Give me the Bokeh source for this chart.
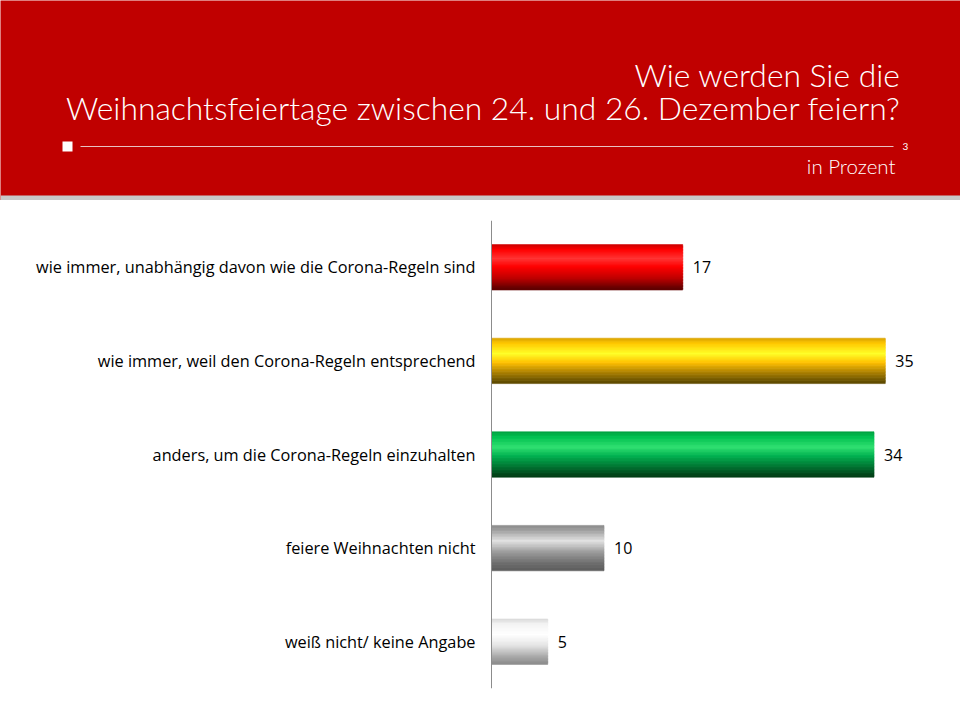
from bokeh.plotting import figure
from bokeh.layouts import column
from bokeh.models import Range1d, FactorRange, ColumnDataSource, Span
from bokeh.transform import dodge
from bokeh.core.properties import value
from bokeh.embed import file_html
from bokeh.resources import INLINE

# ---- data ----
categories = [
    "wie immer, unabhängig davon wie die Corona-Regeln sind",
    "wie immer, weil den Corona-Regeln entsprechend",
    "anders, um die Corona-Regeln einzuhalten",
    "feiere Weihnachten nicht",
    "weiß nicht/ keine Angabe",
]
values = [17, 35, 34, 10, 5]
bar_styles = ["red", "yellow", "green", "gray", "white"]
title_lines = ["Wie werden Sie die", "Weihnachtsfeiertage zwischen 24. und 26. Dezember feiern?"]
subtitle = "in Prozent"
page_number = "3"

TFONT = "Lato Light, Lato"
SFONT = "Lato"
LFONT = "Open Sans"

# ---- gradient styles (top -> bottom) ----
gradients = {
    "red":    [(0.0, "#C80000"), (0.12, "#FF0000"), (0.32, "#FF3535"), (0.5, "#FF0000"), (0.75, "#C00000"), (1.0, "#5A0000")],
    "yellow": [(0.0, "#D8A000"), (0.12, "#FFC800"), (0.35, "#FFFF28"), (0.55, "#FFC000"), (0.8, "#A07800"), (1.0, "#5A4800")],
    "green":  [(0.0, "#00A040"), (0.12, "#00C050"), (0.35, "#30E070"), (0.55, "#00B050"), (0.8, "#007030"), (1.0, "#003A14")],
    "gray":   [(0.0, "#8A8A8A"), (0.12, "#A0A0A0"), (0.35, "#E2E2E2"), (0.6, "#9C9C9C"), (0.85, "#6E6E6E"), (1.0, "#5E5E5E")],
    "white":  [(0.0, "#D8D8D8"), (0.12, "#F4F4F4"), (0.35, "#FFFFFF"), (0.6, "#E4E4E4"), (0.85, "#A8A8A8"), (1.0, "#8C8C8C")],
}

def hex2rgb(h):
    h = h.lstrip("#")
    return tuple(int(h[i:i + 2], 16) for i in (0, 2, 4))

def interp(stops, t):
    for (t0, c0), (t1, c1) in zip(stops[:-1], stops[1:]):
        if t0 <= t <= t1:
            f = 0 if t1 == t0 else (t - t0) / (t1 - t0)
            a, b = hex2rgb(c0), hex2rgb(c1)
            r = [round(a[i] + (b[i] - a[i]) * f) for i in range(3)]
            return "#%02x%02x%02x" % tuple(r)
    return stops[-1][1]

# ---- header ----
RED = "#C00000"
hdr = figure(width=960, height=200, x_range=Range1d(0, 960), y_range=Range1d(200, 0),
             output_backend="svg", toolbar_location=None, min_border=0,
             background_fill_color=RED, border_fill_color=RED, outline_line_color=None)
hdr.axis.visible = False
hdr.grid.visible = False
hdr.quad(left=[0], right=[960], top=[195], bottom=[200], fill_color="#C8C8C8", line_color=None)
hdr.text(x=[900, 900], y=[74, 107], text=title_lines, text_align="right", text_baseline="alphabetic",
         text_color="white", text_font=value(TFONT), text_font_size="31.8px")
hdr.quad(left=[62], right=[72], top=[141], bottom=[151], fill_color="white", line_color=None)
hdr.segment(x0=[80], y0=[146], x1=[893], y1=[146], line_color="#E8C0C0", line_width=1.2)
hdr.text(x=[902], y=[146], text=[page_number], text_align="left", text_baseline="middle",
         text_color="white", text_font=value(SFONT), text_font_size="10px")
hdr.text(x=[895], y=[165], text=[subtitle], text_align="right", text_baseline="alphabetic",
         text_color="white", text_font=value(TFONT), text_font_size="20.5px")

# ---- chart ----
PX = 11.25  # pixels per percent
p = figure(width=960, height=520, y_range=FactorRange(*reversed(categories)),
           x_range=Range1d(-491 / PX, 469 / PX),
           output_backend="svg", toolbar_location=None,
           min_border_left=0, min_border_right=0, min_border_top=20, min_border_bottom=32,
           outline_line_color=None, background_fill_color="white", border_fill_color="white")
p.axis.visible = False
p.grid.visible = False
p.add_layout(Span(location=0, dimension="height", line_color="#8C8C8C", line_width=1))

BAR_H = 0.48
N = 30
sh = BAR_H / N
for k in range(N):
    t = (k + 0.5) / N
    cols = [interp(gradients[s], t) for s in bar_styles]
    src = ColumnDataSource(dict(cat=categories, val=values, color=cols))
    off = BAR_H / 2 - (k + 0.5) * sh
    p.hbar(y=dodge("cat", off, range=p.y_range), left=0, right="val", height=sh * 1.3,
           fill_color="color", line_color="color", line_width=0.6, source=src)

lab = ColumnDataSource(dict(cat=categories, val=values, txt=[str(v) for v in values], zero=[0] * len(values)))
p.text(x="zero", y="cat", text="cat", source=lab, x_offset=-16, text_baseline="middle",
       text_align="right", text_color="#000000", text_font=value(LFONT), text_font_size="16.3px")
p.text(x="val", y="cat", text="txt", source=lab, x_offset=10, text_baseline="middle",
       text_align="left", text_color="#000000", text_font=value(LFONT), text_font_size="16px")

layout = column(hdr, p, spacing=0)
html = file_html(layout, INLINE)
html = html.replace("<head>", "<head><style>html,body{margin:0;padding:0;overflow:hidden}</style>", 1)
open("out.html", "w").write(html)
